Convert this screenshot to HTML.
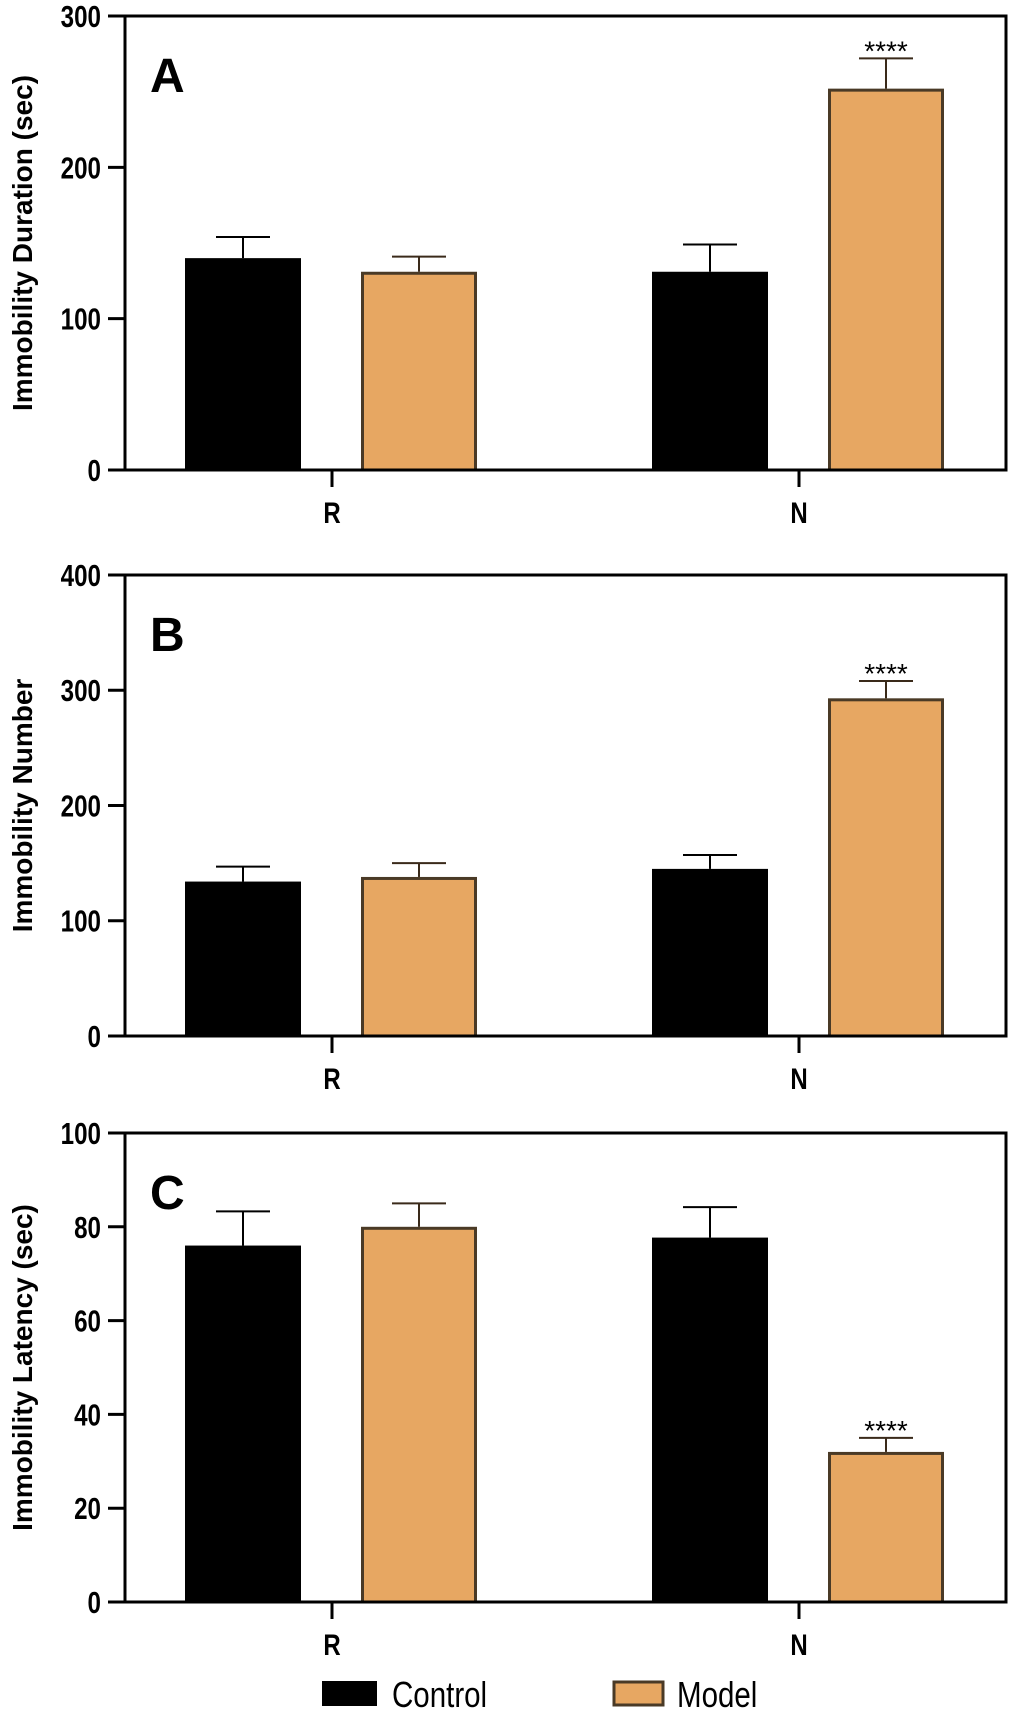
<!DOCTYPE html>
<html><head><meta charset="utf-8"><style>
html,body{margin:0;padding:0;background:#fff;}
svg{display:block;font-family:"Liberation Sans",Arial,sans-serif;}
</style></head><body>
<svg id="chart" width="1020" height="1710" viewBox="0 0 1020 1710"></svg>
<script>
const categories = ["R","N"];
const seriesNames = ["Control","Model"];
const aControl = [140,131], aControlErr = [154,149];
const aModel = [131,252], aModelErr = [141,272];
const bControl = [134,145], bControlErr = [147,157];
const bModel = [138,293], bModelErr = [150,308];
const cControl = [76,77.7], cControlErr = [83.3,84.2];
const cModel = [80,32], cModelErr = [85,35];
const aTicks = [0,100,200,300];
const bTicks = [0,100,200,300,400];
const cTicks = [0,20,40,60,80,100];
const sigLabels = [["",""],["","****"]];
const cSig = [["",""],["","****"]];

const NS="http://www.w3.org/2000/svg";
const svg=document.getElementById('chart');
function mk(tag,attrs,parent){const e=document.createElementNS(NS,tag);for(const k in attrs)e.setAttribute(k,attrs[k]);(parent||svg).appendChild(e);return e;}

const panels=[
 {id:'a',letter:'A',title:'Immobility Duration (sec)',top:16,bottom:470,ticks:aTicks,ctrl:aControl,ctrlE:aControlErr,mod:aModel,modE:aModelErr,sig:sigLabels},
 {id:'b',letter:'B',title:'Immobility Number',top:575,bottom:1036,ticks:bTicks,ctrl:bControl,ctrlE:bControlErr,mod:bModel,modE:bModelErr,sig:sigLabels},
 {id:'c',letter:'C',title:'Immobility Latency (sec)',top:1133,bottom:1602,ticks:cTicks,ctrl:cControl,ctrlE:cControlErr,mod:cModel,modE:cModelErr,sig:cSig}
];
const L=125,R=1006;
const groupCenter=[332,799];
const barW=116, offCtrl=-89, offMod=87;

panels.forEach(p=>{
  const g=mk('g',{});
  
  
  const max=p.ticks[p.ticks.length-1];
  const y=v=>p.bottom-(v/max)*(p.bottom-p.top);
  function bar(xc,v,e,isModel,cat){
    const x0=xc-barW/2;
    const r=mk('rect',{x:x0+(isModel?1.5:0),y:y(v)+(isModel?1.5:0),width:barW-(isModel?3:0),height:p.bottom-y(v)-(isModel?1.5:0),fill:isModel?'#e7a762':'#000',stroke:isModel?'#4a3a26':'none','stroke-width':isModel?3:0},g);
    
    
    const eg=mk('g',{stroke:isModel?'#3a2a1a':'#000','stroke-width':2},g);
    
    
    mk('line',{x1:xc,x2:xc,y1:y(v),y2:y(e)},eg);
    mk('line',{x1:xc-27,x2:xc+27,y1:y(e),y2:y(e)},eg);
  }
  categories.forEach((c,i)=>{
    bar(groupCenter[i]+offCtrl,p.ctrl[i],p.ctrlE[i],false,c);
    bar(groupCenter[i]+offMod,p.mod[i],p.modE[i],true,c);
    const s=p.sig[1][i];
    if(s){const t=mk('text',{x:groupCenter[i]+offMod,y:y(p.modE[i])+2,'text-anchor':'middle','font-size':28,fill:'#000'},g);t.textContent=s;
      }
  });
  const fr=mk('rect',{x:L,y:p.top,width:R-L,height:p.bottom-p.top,fill:'none',stroke:'#000','stroke-width':3},g);
  
  p.ticks.forEach(t=>{
    mk('line',{x1:108,x2:L,y1:y(t),y2:y(t),stroke:'#000','stroke-width':3},g);
    const tx=mk('text',{x:101,y:y(t)+11,'text-anchor':'end','font-size':31,'font-weight':'bold',fill:'#000',transform:'translate(101,0) scale(0.78,1) translate(-101,0)'},g);
    tx.textContent=t;
    
  });
  categories.forEach((c,i)=>{
    mk('line',{x1:groupCenter[i],x2:groupCenter[i],y1:p.bottom,y2:p.bottom+17,stroke:'#000','stroke-width':3},g);
    const tx=mk('text',{x:groupCenter[i],y:p.bottom+53,'text-anchor':'middle','font-size':30,'font-weight':'bold',fill:'#000',transform:'translate('+groupCenter[i]+',0) scale(0.8,1) translate('+(-groupCenter[i])+',0)'},g);
    tx.textContent=c;
    
  });
  const mid=(p.top+p.bottom)/2;
  const yt=mk('text',{x:0,y:0,transform:'translate(32,'+mid+') rotate(-90)','text-anchor':'middle','font-size':28,'font-weight':'bold',fill:'#000'},g);
  yt.textContent=p.title;
  
  const lt=mk('text',{x:150,y:p.top+76,'font-size':48,'font-weight':'bold',fill:'#000'},g);
  lt.textContent=p.letter;
  
});
const lg=mk('g',{});

const e1=mk('g',{},lg);
mk('rect',{x:322,y:1681,width:55,height:25,fill:'#000'},e1);
const t1=mk('text',{x:392,y:1707,'font-size':36,fill:'#000',transform:'translate(392,0) scale(0.82,1) translate(-392,0)'},e1);t1.textContent=seriesNames[0];
const e2=mk('g',{},lg);
mk('rect',{x:614,y:1682,width:49,height:23,fill:'#e7a762',stroke:'#4a3a26','stroke-width':3},e2);
const t2=mk('text',{x:677,y:1707,'font-size':36,fill:'#000',transform:'translate(677,0) scale(0.82,1) translate(-677,0)'},e2);t2.textContent=seriesNames[1];
</script>
</body></html>
